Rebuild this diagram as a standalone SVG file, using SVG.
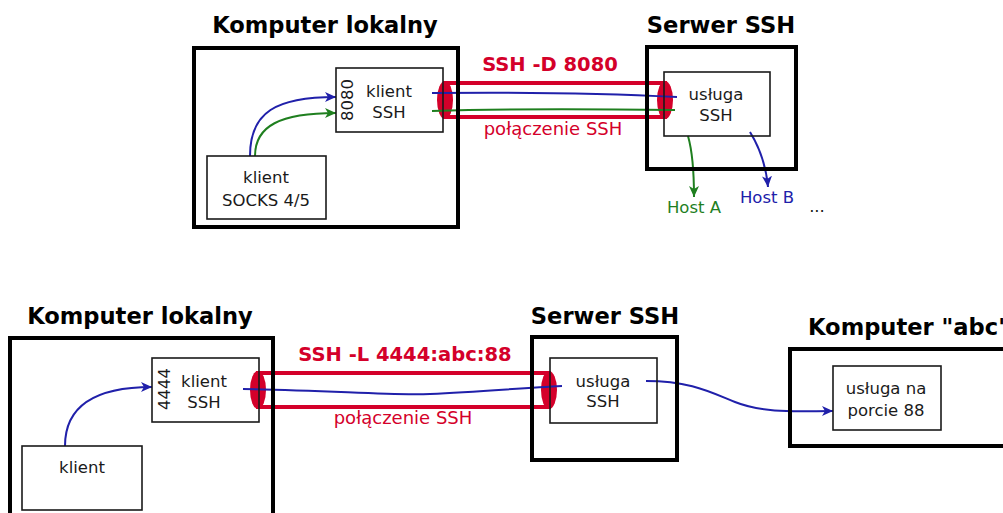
<svg xmlns="http://www.w3.org/2000/svg" width="1003" height="513" viewBox="0 0 1003 513">
<style>
text{font-family:"DejaVu Sans","Liberation Sans",sans-serif;}
.t{font-size:22.6px;font-weight:bold;fill:#000;text-anchor:middle}
.l{font-size:16.5px;fill:#1a1a1a;text-anchor:middle}
.r{font-size:16.5px;text-anchor:middle}
.cmd{font-size:19.5px;font-weight:bold;fill:#d4002a;text-anchor:middle}
.tl{font-size:18px;fill:#d4002a;text-anchor:middle}
.outer{fill:none;stroke:#000;stroke-width:4}
.inner{fill:none;stroke:#1a1a1a;stroke-width:1.6}
.tube{fill:none;stroke:#d4002a;stroke-width:4}
.end{fill:#d4002a}
.b{fill:none;stroke:#2020aa;stroke-width:2}
.g{fill:none;stroke:#1f7f1f;stroke-width:2}
</style>
<defs>
<marker id="ab" markerUnits="userSpaceOnUse" markerWidth="14" markerHeight="12" refX="11" refY="6" orient="auto" viewBox="0 0 14 12">
<path d="M11,6 L0,1 L3,6 L0,11 Z" fill="#2020aa"/>
</marker>
<marker id="ag" markerUnits="userSpaceOnUse" markerWidth="14" markerHeight="12" refX="11" refY="6" orient="auto" viewBox="0 0 14 12">
<path d="M11,6 L0,1 L3,6 L0,11 Z" fill="#1f7f1f"/>
</marker>
</defs>

<g id="tunnel-top">
<rect class="tube" x="445" y="83" width="220" height="34"/>
<ellipse class="end" cx="445" cy="100" rx="8" ry="19"/>
<ellipse class="end" cx="665" cy="100" rx="8" ry="19"/>
<text class="cmd" x="550" y="71">SSH -D 8080</text>
<text class="tl" x="553" y="135">połączenie SSH</text>
</g>
<g id="tunnel-bottom">
<rect class="tube" x="258" y="373" width="291" height="34"/>
<ellipse class="end" cx="258" cy="390" rx="8" ry="19"/>
<ellipse class="end" cx="549" cy="390" rx="8" ry="19"/>
<text class="cmd" x="405" y="361">SSH -L 4444:abc:88</text>
<text class="tl" x="403" y="424">połączenie SSH</text>
</g>

<g id="connectors">
<path class="b" d="M432,93 C520,92 600,93 677,97"/>
<path class="g" d="M432,111 C520,108 600,109 675,110"/>
<path class="b" d="M250,156 C250,112 276,97 336,97" marker-end="url(#ab)"/>
<path class="g" d="M255,156 C255,126 280,113 336,113" marker-end="url(#ag)"/>
<path class="g" d="M688,136 C692,150 694,170 694,197" marker-end="url(#ag)"/>
<path class="b" d="M750,132 C758,145 766,165 768,187" marker-end="url(#ab)"/>
<path class="b" d="M65,446 C65,408 92,387 152,387" marker-end="url(#ab)"/>
<path class="b" d="M243,389 C330,390 390,396 430,394 C480,392 520,388 562,386"/>
<path class="b" d="M646,381 C690,381 710,392 735,402 C765,414 800,411 833,411" marker-end="url(#ab)"/>
</g>

<g id="komputer-lokalny-top">
<rect class="outer" x="194" y="48" width="264" height="179"/>
<text class="t" x="325" y="33">Komputer lokalny</text>
</g>
<g id="klient-ssh-top">
<rect class="inner" x="336" y="68" width="107" height="64"/>
<text class="l" x="389" y="97">klient</text>
<text class="l" x="389" y="118">SSH</text>
<text class="r" fill="#1a1a1a" font-size="16" transform="translate(353,100) rotate(-90)">8080</text>
</g>
<g id="klient-socks">
<rect class="inner" x="207" y="156" width="119" height="63"/>
<text class="l" x="266" y="183">klient</text>
<text class="l" x="266" y="206">SOCKS 4/5</text>
</g>
<g id="serwer-ssh-top">
<rect class="outer" x="647" y="47" width="149" height="122"/>
<text class="t" x="721" y="33">Serwer SSH</text>
</g>
<g id="usluga-ssh-top">
<rect class="inner" x="664" y="72" width="106" height="64"/>
<text class="l" x="716" y="100">usługa</text>
<text class="l" x="716" y="121">SSH</text>
</g>
<g id="host-a"><text class="r" fill="#1f7f1f" x="694" y="213">Host A</text></g>
<g id="host-b"><text class="r" fill="#2020aa" x="767" y="203">Host B</text></g>
<g id="more"><text class="l" x="817" y="212">...</text></g>

<g id="komputer-lokalny-bottom">
<rect class="outer" x="10" y="338" width="263" height="190"/>
<text class="t" x="140" y="324">Komputer lokalny</text>
</g>
<g id="klient-ssh-bottom">
<rect class="inner" x="152" y="358" width="107" height="64"/>
<text class="l" x="204" y="387">klient</text>
<text class="l" x="204" y="408">SSH</text>
<text class="r" fill="#1a1a1a" font-size="16" transform="translate(170,389) rotate(-90)">4444</text>
</g>
<g id="klient-bottom">
<rect class="inner" x="22" y="446" width="120" height="64"/>
<text class="l" x="82" y="473">klient</text>
</g>
<g id="serwer-ssh-bottom">
<rect class="outer" x="532" y="337" width="145" height="123"/>
<text class="t" x="605" y="324">Serwer SSH</text>
</g>
<g id="usluga-ssh-bottom">
<rect class="inner" x="550" y="358" width="107" height="65"/>
<text class="l" x="603" y="387">usługa</text>
<text class="l" x="603" y="407">SSH</text>
</g>
<g id="komputer-abc">
<rect class="outer" x="790" y="349" width="240" height="97"/>
<text class="t" x="808" y="335" style="text-anchor:start">Komputer "abc"</text>
</g>
<g id="usluga-port-88">
<rect class="inner" x="833" y="366" width="108" height="64"/>
<text class="l" x="886" y="394">usługa na</text>
<text class="l" x="886" y="416">porcie 88</text>
</g>
</svg>
